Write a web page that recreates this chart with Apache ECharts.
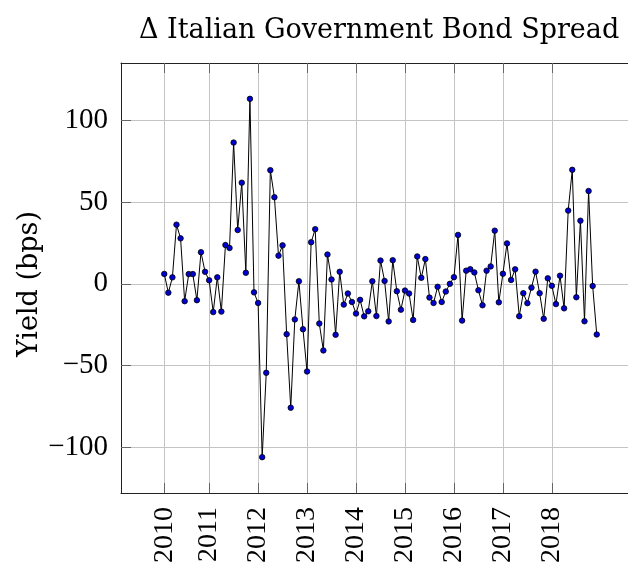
<!DOCTYPE html>
<html>
<head>
<meta charset="utf-8">
<script src="https://cdn.jsdelivr.net/npm/echarts@6/dist/echarts.min.js"></script>
<style>
  html, body { margin: 0; padding: 0; background: #fff; }
  #chart { width: 628px; height: 571px; }
</style>
</head>
<body>
<div id="chart"></div>
<script>
// Monthly change in the Italian government bond spread (bps), Feb 2010 - Dec 2018
const spread = [
  6.1, -5.4, 4.0, 36.3, 27.9, -10.6, 6.0, 6.0, -10.0, 19.4, 7.4,
  2.2, -17.3, 4.0, -17.0, 23.8, 22.0, 86.6, 33.0, 62.0, 6.8, 113.4, -5.2,
  -11.7, -106.2, -54.5, 69.7, 53.1, 17.3, 23.6, -30.8, -75.9, -21.8, 1.6, -27.8,
  -53.7, 25.5, 33.5, -24.3, -40.8, 18.0, 2.7, -31.2, 7.4, -12.7, -5.9, -11.1,
  -18.2, -9.8, -19.9, -16.8, 1.6, -19.7, 14.3, 1.8, -23.0, 14.5, -4.5, -15.8,
  -4.1, -5.9, -22.1, 16.8, 3.7, 15.2, -8.4, -11.7, -1.8, -11.1, -4.7, 0.0,
  4.1, 30.0, -22.5, 8.1, 9.0, 7.0, -3.9, -13.1, 8.1, 10.7, 32.6, -11.3,
  6.2, 24.8, 2.4, 8.9, -19.8, -5.7, -11.8, -2.3, 7.5, -5.7, -21.4, 3.4,
  -1.2, -12.4, 5.0, -15.0, 44.9, 69.9, -8.2, 38.7, -22.9, 56.9, -1.3, -31.0
];

// Year labels and the month positions (counted from Jan 2010) where they sit
const years = ['2010', '2011', '2012', '2013', '2014', '2015', '2016', '2017', '2018'];
const yearTicks = [1, 12, 24, 36, 48, 60, 72, 84, 96];
const yTicks = [-100, -50, 0, 50, 100];

const points = spread.map((v, i) => [i + 1, v]);

// 10% padding around the data range on both axes
const xSpan = points.length - 1;
const xMin = 1 - 0.1 * xSpan;
const xMax = points.length + 0.1 * xSpan;
const yLo = Math.min(...spread), yHi = Math.max(...spread);
const yMin = yLo - 0.1 * (yHi - yLo);
const yMax = yHi + 0.1 * (yHi - yLo);

const serif = 'Liberation Serif';
const frame = '#222';
const gridCol = '#c4c4c4';
const tickCol = '#666';

const chart = echarts.init(document.getElementById('chart'), null, { renderer: 'canvas' });
chart.setOption({
  backgroundColor: '#fff',
  animation: false,
  title: {
    text: '\u0394 Italian Government Bond Spread',
    left: 134, top: 12,
    textStyle: { fontFamily: 'DejaVu Serif', fontSize: 27, fontWeight: 'normal', color: '#000' }
  },
  grid: { left: 121, top: 63, width: 519, height: 430, outerBoundsMode: 'none', containLabel: false },
  xAxis: [{
    type: 'value', min: xMin, max: xMax,
    axisLine: { onZero: false, lineStyle: { color: frame, width: 1 } },
    axisTick: { inside: true, length: 10, customValues: yearTicks, lineStyle: { color: tickCol } },
    splitLine: { show: true, lineStyle: { color: gridCol, width: 1 } },
    axisLabel: {
      customValues: yearTicks, rotate: 90, margin: 14,
      fontFamily: serif, fontSize: 28, color: '#000',
      formatter: v => years[yearTicks.indexOf(Math.round(v))] || ''
    }
  }, {
    type: 'value', position: 'top', min: xMin, max: xMax,
    axisLine: { onZero: false, lineStyle: { color: frame, width: 1 } },
    axisTick: { inside: true, length: 10, customValues: yearTicks, lineStyle: { color: tickCol } },
    splitLine: { show: false },
    axisLabel: { show: false }
  }],
  yAxis: {
    type: 'value', min: yMin, max: yMax,
    name: 'Yield (bps)', nameLocation: 'middle', nameGap: 78, nameRotate: 90,
    nameMoveOverlap: false,
    nameTextStyle: { fontFamily: 'DejaVu Serif', fontSize: 27, color: '#000', padding: [0, 12, 0, 0] },
    axisLine: { show: true, onZero: false, lineStyle: { color: frame, width: 1 } },
    axisTick: { inside: true, length: 10, customValues: yTicks, lineStyle: { color: tickCol } },
    splitLine: { show: true, lineStyle: { color: gridCol, width: 1 } },
    axisLabel: {
      customValues: yTicks, margin: 13,
      fontFamily: serif, fontSize: 29, color: '#000',
      formatter: v => String(Math.round(v)).replace('-', '\u2212')
    }
  },
  series: [{
    type: 'line',
    data: points,
    symbol: 'circle', symbolSize: 5.5,
    itemStyle: { color: '#0000d0', borderColor: '#000', borderWidth: 0.8 },
    lineStyle: { color: '#000', width: 1 },
    z: 3
  }]
});
</script>
</body>
</html>
